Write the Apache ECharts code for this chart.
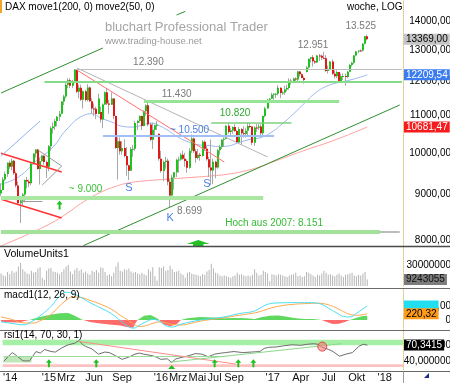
<!DOCTYPE html>
<html><head><meta charset="utf-8">
<script src="https://cdn.jsdelivr.net/npm/echarts@6/dist/echarts.min.js"></script>
<style>html,body{margin:0;padding:0;background:#fff;overflow:hidden}#c{width:450px;height:383px}</style>
</head><body><div id="c"></div><script>
// ---------- DATA ----------
const slotCount = 186; // weekly slots from Aug 11 2014 (data + empty right margin)
const tickWeeks = [3,21,29,42,55,73,81,90,98,107,125,138,151,164,177];
const tickLabels = ["'14","'15","Mrz","Jun","Sep","'16","Mrz","Mai","Jul","Sep","'17","Apr","Jul","Okt","'18"];
// weekly candles: [open, close, low, high]
const ohlc = [
[9009,9092,8950,9250],[9092,9339,9080,9400],[9339,9470,9300,9530],[9470,9747,9400,9760],[9747,9651,9600,9800],
[9651,9799,9560,9850],[9799,9490,9450,9820],[9490,9195,9150,9530],[9195,8788,8780,9290],[8788,8850,8355,8890],
[8850,8988,8750,9020],[8988,9327,8810,9340],[9327,9291,9130,9400],[9291,9252,9160,9340],[9252,9732,9200,9740],
[9732,9980,9700,9990],[9980,10087,9880,10090],[10087,9594,9580,10100],[9594,9787,9220,9880],[9787,9927,9780,9950],
[9927,9765,9700,9930],[9765,9648,9380,9800],[9648,10167,9540,10200],[10167,10649,10050,10700],[10649,10694,10500,10810],
[10694,10846,10600,10900],[10846,10963,10700,10990],[10963,11050,10850,11130],[11050,11401,11040,11410],[11401,11550,11300,11600],
[11550,11901,11500,11950],[11901,12039,11800,12100],[12039,11868,11800,12100],[11868,11967,11800,12050],[11967,12375,11950,12390],
[12375,11688,11650,12380],[11688,11811,11500,11900],[11811,11454,11420,11900],[11454,11709,11200,11730],[11709,11447,11400,11750],
[11447,11815,11400,11920],[11815,11413,11380,11850],[11413,11197,11050,11500],[11197,11196,10980,11350],[11196,11040,10900,11250],
[11040,11492,11030,11630],[11100,10890,10800,11250],[10890,11316,10650,11350],[11316,11673,11300,11700],[11673,11347,11300,11800],
[11347,11308,11050,11450],[11308,11490,11300,11670],[11490,10985,10900,11500],[10985,10124,10100,11000],[10124,10298,9338,10400],
[10298,10038,9950,10400],[10038,10123,9950,10300],[10123,9916,9880,10350],[9916,9688,9430,10150],[9688,9553,9325,9700],
[9553,10096,9550,10150],[10096,10104,9900,10200],[10104,10795,10050,10850],[10795,10850,10600,10880],[10850,10988,10800,11000],
[10988,10708,10600,11000],[10708,11119,10700,11150],[11119,11293,11000,11320],[11293,10752,10700,11430],[10752,10340,10300,10800],
[10340,10608,10100,10800],[10608,10727,10450,10750],[10727,10743,10600,10850],[10500,9849,9800,10500],[9849,9545,9500,10050],
[9545,9764,9300,9800],[9764,9798,9600,9900],[9798,9286,9200,9850],[9286,8967,8699,9350],[8967,9388,8950,9450],
[9388,9513,9100,9520],[9513,9824,9400,9850],[9824,9831,9500,9900],[9831,9950,9800,10000],[9950,9851,9820,10050],
[9851,9794,9650,10000],[9794,9622,9500,9830],[9622,10051,9600,10120],[10051,10373,10000,10480],[10373,10039,10000,10400],
[10039,9870,9750,10100],[9870,9952,9830,10100],[9952,9916,9800,10000],[9916,10287,9900,10330],[10287,10103,10050,10320],
[10103,9834,9800,10180],[9834,9631,9400,9900],[9631,9558,9210,10350],[9558,9776,9230,9850],[9776,9629,9370,9800],
[9629,10067,9600,10100],[10067,10147,9950,10200],[10147,10337,10100,10350],[10337,10367,10150,10400],[10367,10713,10350,10730],
[10713,10544,10500,10800],[10544,10588,10450,10650],[10588,10684,10500,10700],[10684,10573,10550,10760],[10573,10276,10260,10600],
[10276,10627,10250,10680],[10627,10511,10200,10650],[10511,10490,10400,10700],[10490,10580,10400,10650],[10580,10711,10450,10800],
[10711,10696,10650,10800],[10696,10259,10200,10700],[10259,10668,10175,10700],[10668,10664,10550,10760],[10664,10699,10600,10770],
[10699,10513,10400,10760],[10513,10986,10450,11000],[10986,11203,10950,11250],[11203,11450,11200,11480],[11450,11481,11400,11500],
[11481,11599,11480,11660],[11599,11629,11450,11650],[11629,11630,11500,11650],[11630,11814,11580,11890],[11814,11651,11500,11820],
[11651,11666,11600,11720],[11666,11757,11600,11870],[11757,11804,11700,11900],[11804,12027,11750,12100],[12027,11963,11900,12080],
[11963,12095,11950,12120],[12095,12064,11950,12130],[12064,12313,12000,12330],[12313,12225,12150,12330],[12225,12109,12100,12250],
[12109,12049,11940,12160],[12300,12438,12280,12480],[12438,12717,12400,12720],[12717,12770,12600,12780],[12770,12638,12470,12840],
[12638,12602,12550,12680],[12602,12823,12580,12850],[12823,12816,12650,12880],[12816,12752,12680,12860],[12752,12733,12700,12951],
[12733,12325,12300,12840],[12325,12389,12250,12500],[12389,12631,12350,12650],[12631,12240,12200,12700],[12240,12162,12100,12350],
[12162,12297,12100,12350],[12297,12014,11990,12300],[12014,12165,11950,12250],[12165,12168,12050,12250],[12168,12142,11870,12250],
[12142,12304,12100,12330],[12304,12519,12300,12550],[12519,12592,12470,12620],[12592,12829,12550,12840],[12829,12956,12800,12980],
[12956,12992,12900,13000],[12992,12991,12950,13030],[12991,13217,12960,13240],[13217,13478,13200,13480],[13478,13369,13330,13525]
];
// weekly volume (millions)
const volume = [
18,15,14,20,17,22,19,21,28,33, 24,21,18,17,22,19,20,25,27,12,
9,22,25,26,21,20,19,17,20,24, 28,30,21,17,23,26,22,24,19,21,
18,16,22,20,23,19,27,26,20,15, 17,14,19,28,34,22,21,24,23,25,
21,19,20,18,17,19,17,15,24,21, 27,14,8,27,26,28,22,23,29,24,
20,21,22,18,16,12,19,20,18,17, 16,15,14,17,16,21,23,32,25,19,
18,15,14,15,14,13,12,14,15,19, 16,17,15,14,15,14,16,24,19,15,
16,22,20,18,7,17,16,15,17,16, 15,14,13,15,16,17,19,14,15,13,
14,20,19,17,15,13,16,15,18,22, 19,16,17,15,14,16,18,15,13,16,
17,18,19,15,14,16,15,18,20,9.243055
];
// move1(200) and move2(50) read at sample weeks
const ma200Weeks = [0,8,15,23,30,38,46,52,58,65,72,80,88,97,105,112,119,126,134,142,150,158,164,169];
const ma200Vals  = [7880,8030,8170,8350,8550,8820,9040,9160,9250,9300,9330,9360,9390,9425,9470,9540,9640,9780,9940,10100,10250,10420,10560,10681.47];
const ma50Weeks = [0,8,17,24,30,38,42,46,51,56,61,65,69,73,77,82,87,92,96,100,104,110,115,120,125,130,135,140,145,150,155,160,165,169];
const ma50Vals  = [9230,9400,9830,10150,10600,11000,11050,10930,10820,10700,10680,10730,10790,10720,10590,10400,10270,10200,10190,10160,10170,10270,10350,10400,10550,10780,11050,11350,11650,11850,11960,12030,12120,12209.54];
// macd(12,26,9)
const macdWeeks  = [0,5,10,14,18,23,27,30,33,37,41,46,51,55,58,61,64,67,70,73,76,79,83,88,92,98,103,110,116,119,123,128,135,142,146,149,152,155,158,161,164,167,169];
const macdVals   = [-70,-120,-170,-60,150,480,850,990,950,800,620,430,220,-20,-200,-290,-180,-60,20,-40,-200,-250,-150,-60,0,60,110,230,300,400,560,610,620,620,600,520,380,250,130,110,240,400,500];
const signalVals = [107,20,-100,-110,-30,200,500,700,820,800,700,560,380,170,20,-140,-230,-200,-120,-70,-100,-160,-180,-110,-40,30,80,170,240,290,390,490,560,590,600,580,520,420,300,200,170,190,220.32];
const histWeeks = [0,4,8,11,13,17,22,27,31,34,37,38,41,45,50,55,58,61,62,63,66,69,72,73,75,78,81,83,86,92,98,103,108,113,117,120,124,128,132,136,140,144,148,150,153,156,159,161,164,167,169];
const histVals  = [-60,-80,-90,-40,0,90,180,240,250,150,30,0,-70,-120,-160,-200,-250,-280,-120,0,150,180,60,0,-150,-220,-150,0,60,110,90,60,70,60,40,100,150,160,120,60,40,40,0,-60,-140,-130,-60,0,80,140,150];
// rsi(14)
const rsiWeeks = [0,2,4,6,9,12,15,17,19,22,24,27,30,33,35,37,38,41,44,47,49,52,55,58,61,63,65,69,71,73,76,78,80,83,86,89,92,95,98,101,103,107,111,115,119,121,123,127,130,134,138,141,144,146,148,151,153,156,159,162,165,167,169];
const rsiVals  = [39,48,56,50,40,40,58,55,62,58,57,65,71,74,79,70,68,63,53,57,56,50,43,47,53,55,53,50,47,43,44,37,44,47,50,54,53,48,53,55,56,58,56,57,58,64,66,67,69,71,70,72,73,72,66,62,58,49,53,56,68,72,70.3415];
const priceTicks = [8000,9000,10000,11000,12000,13000,14000];

// ---------- CHART ----------
const FONT = '"Liberation Sans", Arial, sans-serif';
const chart = echarts.init(document.getElementById('c'), null, {renderer: 'canvas'});
const cats = Array.from({length: slotCount}, (_, i) => String(i));
const pair = (ws, vs) => ws.map((w, k) => [w, vs[k]]);
const last = a => a[a.length - 1];
const tickMap = {}; tickWeeks.forEach((w, k) => tickMap[w] = tickLabels[k]);

const gridDefs = [
  {left: 0, right: 47, top: 0, height: 246},
  {left: 0, right: 47, top: 247, height: 39},
  {left: 0, right: 47, top: 289, height: 41},
  {left: 0, right: 47, top: 331, height: 40}
];
const yLine = {show: true, lineStyle: {color: '#d8c77c', type: 'dotted', width: 1}};
const xAxes = gridDefs.map((g, k) => ({
  type: 'category', gridIndex: k, data: cats, boundaryGap: true,
  axisLine: {show: false}, axisTick: {show: false}, splitLine: {show: false},
  axisLabel: k === 3 ? {
    show: true, margin: 2, fontSize: 11, fontFamily: FONT, color: '#111',
    interval: (idx) => tickMap[idx] !== undefined,
    formatter: (v, idx) => tickMap[idx] || ''
  } : {show: false}
}));
const yBase = {position: 'right', axisLine: yLine, axisTick: {show: false}, axisLabel: {show: false}, splitLine: {show: false}};
const yAxes = [
  Object.assign({type: 'log', gridIndex: 0, min: 7878, max: 14784}, yBase),
  Object.assign({type: 'value', gridIndex: 1, min: 0, max: 56}, yBase),
  Object.assign({type: 'value', gridIndex: 2, min: -357, max: 1107}, yBase),
  Object.assign({type: 'value', gridIndex: 3, min: 22.5, max: 97.5}, yBase)
];

// annotation specs (data coordinates: week index, price)
const mainLines = [
  {a:[38.3,7886], b:[184.1,11301], c:'#2f8f2f', w:1},
  {a:[0.4,11654], b:[47,13076], c:'#2f8f2f', w:1},
  {a:[81.2,14227], b:[84.9,14359], c:'#2f8f2f', w:1},
  {a:[0,9986], b:[28.1,9520], c:'#ff3333', w:1.5},
  {a:[0,8879], b:[28.1,8463], c:'#ff3333', w:1.5},
  {a:[17,10072], b:[28.1,9667], c:'#9a9a9a', w:1},
  {a:[18.9,9209], b:[28.1,9667], c:'#9a9a9a', w:1},
  {a:[8.7,8840], b:[19.4,8840], c:'#9a9a9a', w:1},
  {a:[0,9917], b:[18,10847], c:'#8fb2f2', w:1},
  {a:[35,12359], b:[103.4,9768], c:'#ff7070', w:1},
  {a:[35,12424], b:[123.2,9894], c:'#b4b4b4', w:1},
  {a:[34,12390], b:[185,12390], c:'#bdbdbd', w:1},
  {a:[20.3,12000], b:[185,12000], c:'#86dc86', w:2},
  {a:[65.5,11400], b:[155.5,11400], c:'#96e496', w:3},
  {a:[97.4,10801], b:[134.3,10801], c:'#7fd27f', w:1.5},
  {a:[47,10440], b:[126.4,10440], c:'#a2bff5', w:2},
  {a:[0,8915], b:[120.9,8915], c:'#abe6a3', w:4},
  {a:[0,8170], b:[184,8170], c:'#bcbcbc', w:2},
  {a:[0,8170], b:[175.4,8170], c:'#a3e29b', w:4}
];
const mainTexts = [
  {i:67.8, p:12615, t:'12.390', c:'#7a7a7a'},
  {i:81.4, p:11623, t:'11.430', c:'#7a7a7a'},
  {i:108, p:11073, t:'10.820', c:'#2ea82e'},
  {i:87.2, p:10601, t:'~ 10.500', c:'#4a7de0'},
  {i:39.2, p:9115, t:'~ 9.000', c:'#3cc03c'},
  {i:59, p:9138, t:'S', c:'#4a7de0', s:11},
  {i:95, p:9233, t:'S', c:'#4a7de0', s:11},
  {i:78, p:8463, t:'K', c:'#4a7de0', s:11},
  {i:87, p:8616, t:'8.699', c:'#7a7a7a'},
  {i:143.7, p:13177, t:'12.951', c:'#7a7a7a'},
  {i:165.9, p:13832, t:'13.525', c:'#7a7a7a'},
  {i:126.2, p:8355, t:'Hoch aus 2007: 8.151', c:'#33bb33'}
];
const upArrow = 'path://M3,0 L6,4 L4,4 L4,9 L2,9 L2,4 L0,4 Z';
const bigArrow = 'path://M0,4 L11,0 L22,4 L16,4 L16,7 L6,7 L6,4 Z';

const ml = (arr) => arr.map(l => [{coord: l.a, lineStyle: {color: l.c, width: l.w, type: 'solid'}}, {coord: l.b}]);
const mlOpts = (arr) => ({silent: true, symbol: ['none', 'none'], label: {show: false}, animation: false, data: ml(arr)});

const series = [
  {
    type: 'custom', name: 'DAX', xAxisIndex: 0, yAxisIndex: 0, z: 4, clip: true,
    data: ohlc.map((d, i) => [i, d[0], d[1], d[2], d[3]]),
    encode: {x: 0, y: [1, 2, 3, 4]},
    renderItem: function (params, api) {
      const i = api.value(0), o = api.value(1), c = api.value(2), l = api.value(3), h = api.value(4);
      const pO = api.coord([i, o]), pC = api.coord([i, c]), pL = api.coord([i, l]), pH = api.coord([i, h]);
      const xc = Math.round(pO[0]);
      const top = Math.min(pO[1], pC[1]), bot = Math.max(pO[1], pC[1]);
      return {type: 'group', children: [
        {type: 'line', shape: {x1: xc - 0.5, y1: pH[1], x2: xc - 0.5, y2: pL[1]}, style: {stroke: '#a8a8a8', lineWidth: 1}},
        {type: 'rect', shape: {x: xc - 1, y: top, width: 2, height: Math.max(1, bot - top)}, style: {fill: c >= o ? '#1fc21f' : '#e01818'}}
      ]};
    }
  },
  {
    type: 'line', name: 'move1', xAxisIndex: 0, yAxisIndex: 0, z: 2, smooth: true, symbol: 'none',
    data: pair(ma200Weeks, ma200Vals), lineStyle: {color: '#ff9d9d', width: 1},
    markLine: mlOpts(mainLines)
  },
  {
    type: 'line', name: 'move2', xAxisIndex: 0, yAxisIndex: 0, z: 3, smooth: true, symbol: 'none',
    data: pair(ma50Weeks, ma50Vals), lineStyle: {color: '#9bb8f3', width: 1}
  },
  {
    type: 'line', name: 'annot', xAxisIndex: 0, yAxisIndex: 0, z: 6, symbol: 'none',
    data: pair(ma50Weeks, ma50Vals), lineStyle: {opacity: 0},
    markPoint: {
      silent: true, animation: false,
      data: mainTexts.map(t => ({
        coord: [t.i, t.p], symbol: 'rect', symbolSize: 1, itemStyle: {color: 'rgba(0,0,0,0)'},
        label: {show: true, position: 'inside', formatter: t.t, color: t.c, fontSize: t.s || 10, fontFamily: FONT}
      })).concat([
        {coord: [27.2, 8750], symbol: upArrow, symbolSize: [6, 9], itemStyle: {color: '#22c022'}, label: {show: false}},
        {coord: [91.1, 7929], symbol: bigArrow, symbolSize: [23, 7], itemStyle: {color: '#22c022'}, label: {show: false}}
      ])
    }
  },
  {
    type: 'bar', name: 'VolumeUnits1', xAxisIndex: 1, yAxisIndex: 1, barWidth: 1,
    data: volume, itemStyle: {color: '#b4b4b4'}
  },
  {
    type: 'line', name: 'histPos', xAxisIndex: 2, yAxisIndex: 2, z: 1, symbol: 'none',
    data: pair(histWeeks, histVals.map(v => Math.max(v, 0))), lineStyle: {width: 0}, itemStyle: {color: '#5fd85f'},
    areaStyle: {color: '#5fd85f', opacity: 1}
  },
  {
    type: 'line', name: 'histNeg', xAxisIndex: 2, yAxisIndex: 2, z: 1, symbol: 'none',
    data: pair(histWeeks, histVals.map(v => Math.min(v, 0))), lineStyle: {width: 0}, itemStyle: {color: '#ff6b6b'},
    areaStyle: {color: '#ff6b6b', opacity: 1}
  },
  {
    type: 'line', name: 'signal', xAxisIndex: 2, yAxisIndex: 2, z: 3, smooth: true, symbol: 'none',
    data: pair(macdWeeks, signalVals), lineStyle: {color: '#ffa64a', width: 1}
  },
  {
    type: 'line', name: 'macd', xAxisIndex: 2, yAxisIndex: 2, z: 3, smooth: true, symbol: 'none',
    data: pair(macdWeeks, macdVals), lineStyle: {color: '#46def0', width: 1}
  },
  {
    type: 'line', name: 'rsiAnnot', xAxisIndex: 3, yAxisIndex: 3, z: 1, symbol: 'none',
    data: pair(rsiWeeks, rsiVals), lineStyle: {opacity: 0},
    markArea: {silent: true, animation: false, label: {show: false}, data: [
      [{yAxis: 70, itemStyle: {color: '#a6f0a6'}}, {yAxis: 80.6}],
      [{yAxis: 28.5, itemStyle: {color: '#ffc2c2'}}, {yAxis: 33.5}],
      [{coord: [0, 36.9], itemStyle: {color: '#bfe8b8'}}, {coord: [13, 49.3]}]
    ]},
    markLine: mlOpts([
      {a:[0,48.8], b:[103,48.8], c:'#9ddc9d', w:1},
      {a:[35,77.4], b:[108,33.75], c:'#ff8c8c', w:1},
      {a:[76.6,37.5], b:[157.3,73.1], c:'#8cd88c', w:1}
    ])
  },
  {
    type: 'line', name: 'rsi1', xAxisIndex: 3, yAxisIndex: 3, z: 3, symbol: 'none',
    data: pair(rsiWeeks, rsiVals), lineStyle: {color: '#6e6e6e', width: 1},
    markPoint: {silent: true, animation: false, data: [
      {coord: [21.2, 35.6], symbol: upArrow, symbolSize: [6, 8], itemStyle: {color: '#22c022'}, label: {show: false}},
      {coord: [43.3, 35.6], symbol: upArrow, symbolSize: [6, 8], itemStyle: {color: '#22c022'}, label: {show: false}},
      {coord: [97.8, 35.6], symbol: upArrow, symbolSize: [6, 8], itemStyle: {color: '#22c022'}, label: {show: false}},
      {coord: [108.9, 35.6], symbol: upArrow, symbolSize: [6, 8], itemStyle: {color: '#22c022'}, label: {show: false}},
      {coord: [115.8, 35.6], symbol: upArrow, symbolSize: [6, 8], itemStyle: {color: '#22c022'}, label: {show: false}},
      {coord: [78, 28.4], symbol: 'triangle', symbolSize: [7, 4], itemStyle: {color: '#22c022'}, label: {show: false}},
      {coord: [148.1, 67.5], symbol: 'circle', symbolSize: 9, itemStyle: {color: 'rgba(255,110,110,0.55)', borderColor: '#e04a4a', borderWidth: 1}, label: {show: false}}
    ]}
  }
];

chart.setOption({
  animation: false,
  backgroundColor: '#ffffff',
  grid: gridDefs,
  xAxis: xAxes,
  yAxis: yAxes,
  series: series
});

// ---------- right-side labels positioned through the axes ----------
const fmt = (v, d) => v.toFixed(d).replace('.', ',');
const axisTexts = priceTicks.map(v => ({k: 0, v: v, t: v + ',00'})).concat([
  {k: 1, v: 30, t: '30000000'},
  {k: 2, v: 500, t: '500,00'},
  {k: 2, v: 0, t: '0'},
  {k: 3, v: 70, t: '70,000000'},
  {k: 3, v: 40, t: '40,000000'}
]);
const boxes = [
  {k: 0, v: last(ohlc)[1], t: fmt(last(ohlc)[1], 2), bg: '#c4c4c4', c: '#000'},
  {k: 0, v: last(ma50Vals), t: fmt(last(ma50Vals), 2), bg: '#3b7bf0', c: '#fff'},
  {k: 0, v: last(ma200Vals), t: fmt(last(ma200Vals), 2), bg: '#f41c1c', c: '#fff'},
  {k: 1, v: last(volume), t: String(Math.round(last(volume) * 1e6)), bg: '#7c7c7c', c: '#111'},
  {k: 2, v: last(macdVals), t: fmt(last(macdVals), 2), bg: '#22dff0', c: '#22dff0'},
  {k: 2, v: last(signalVals), t: fmt(last(signalVals), 2), bg: '#ff9b1a', c: '#000'},
  {k: 3, v: last(rsiVals), t: fmt(last(rsiVals), 4), bg: '#000', c: '#fff'}
];
const px = (k, v) => chart.convertToPixel({yAxisIndex: k}, v);
const txt = (x, y, t, size, color, align, extra) => ({
  type: 'text', x: x, y: y, silent: true, z: 50,
  style: Object.assign({text: t, fill: color, font: size + 'px ' + FONT,
    align: align || 'left', verticalAlign: 'middle', textAlign: align || 'left', textVerticalAlign: 'middle'}, extra || {})
});
const line = (x1, y1, x2, y2, c, w) => ({type: 'line', silent: true, z: 40, shape: {x1, y1, x2, y2}, style: {stroke: c, lineWidth: w}});

const graphics = [
  {type: 'rect', silent: true, z: 50, shape: {x: 0, y: 0, width: 2, height: 13}, style: {fill: '#f2a32a'}},
  txt(5, 7, 'DAX move1(200, 0) move2(50, 0)', 10, '#000'),
  txt(105, 27, 'bluchart Professional Trader', 13, '#a6a6a6'),
  txt(105, 41, 'www.trading-house.net', 9.5, '#9a9a9a'),
  txt(347, 7, 'woche, LOG', 10, '#000'),
  txt(4, 254.5, 'VolumeUnits1', 10.5, '#000'),
  txt(4, 295, 'macd1(12, 26, 9)', 10, '#000'),
  txt(4, 335.5, 'rsi1(14, 70, 30, 1)', 10, '#000'),
  line(0, 246.5, 450, 246.5, '#4a4a4a', 1.5),
  line(0, 288.5, 450, 288.5, '#6a6a6a', 1),
  line(0, 330.5, 450, 330.5, '#6a6a6a', 1),
  line(0, 371.5, 450, 371.5, '#6a6a6a', 1),
  line(403.5, 371.5, 403.5, 383, '#9a9a9a', 1),
  {type: 'polygon', silent: true, z: 50, shape: {points: [[424, 378], [429, 373], [429, 378]]}, style: {fill: '#1b2a8c'}}
];
axisTexts.forEach(a => graphics.push(txt(451, px(a.k, a.v), a.t, 10, '#000', 'right')));
boxes.forEach(b => graphics.push(txt(404, px(b.k, b.v), b.t, 10, b.c, 'left', {backgroundColor: b.bg, padding: [1, 2, 0, 2]})));

chart.setOption({graphic: {elements: graphics}});
</script></body></html>
